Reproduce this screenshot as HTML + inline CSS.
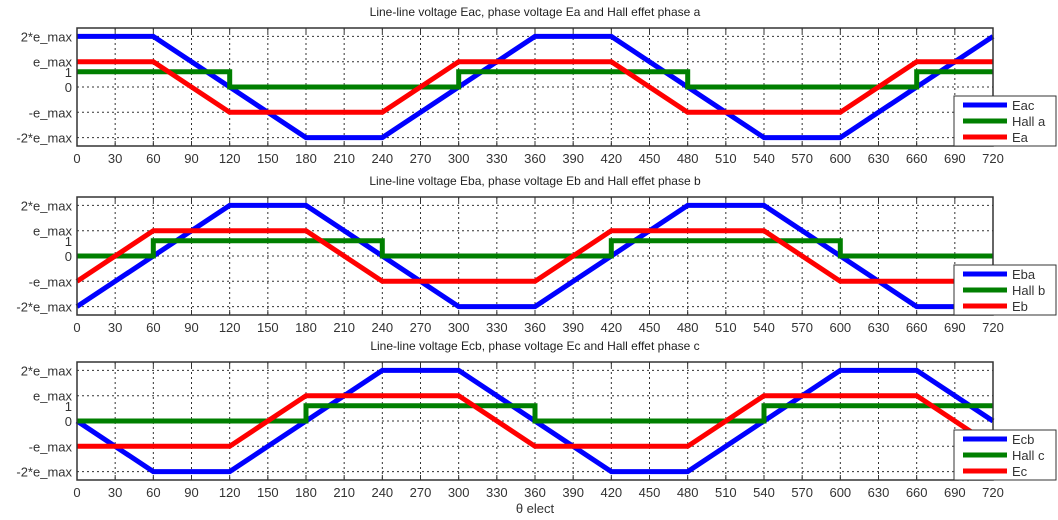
<!DOCTYPE html>
<html><head><meta charset="utf-8"><style>
html,body{margin:0;padding:0;background:#fff;}
svg{display:block;font-family:"Liberation Sans",sans-serif;}
</style></head><body>
<svg id="s" width="1058" height="520" xmlns="http://www.w3.org/2000/svg"></svg>
<script>
const s=document.getElementById('s');
const X=d=>77+d*916/720;
let h='';
const panels=[
 {y0:87,t:'Line-line voltage Eac, phase voltage Ea and Hall effet phase a',n:['Eac','Hall a','Ea'],
  L:[[0,2],[60,2],[180,-2],[240,-2],[360,2],[420,2],[540,-2],[600,-2],[720,2]],
  H:[[0,1],[120,1],[120,0],[300,0],[300,1],[480,1],[480,0],[660,0],[660,1],[720,1]],
  P:[[0,1],[60,1],[120,-1],[240,-1],[300,1],[420,1],[480,-1],[600,-1],[660,1],[720,1]]},
 {y0:256,t:'Line-line voltage Eba, phase voltage Eb and Hall effet phase b',n:['Eba','Hall b','Eb'],
  L:[[0,-2],[120,2],[180,2],[300,-2],[360,-2],[480,2],[540,2],[660,-2],[720,-2]],
  H:[[0,0],[60,0],[60,1],[240,1],[240,0],[420,0],[420,1],[600,1],[600,0],[720,0]],
  P:[[0,-1],[60,1],[180,1],[240,-1],[360,-1],[420,1],[540,1],[600,-1],[720,-1]]},
 {y0:421,t:'Line-line voltage Ecb, phase voltage Ec and Hall effet phase c',n:['Ecb','Hall c','Ec'],
  L:[[0,0],[60,-2],[120,-2],[240,2],[300,2],[420,-2],[480,-2],[600,2],[660,2],[720,0]],
  H:[[0,0],[180,0],[180,1],[360,1],[360,0],[540,0],[540,1],[720,1]],
  P:[[0,-1],[120,-1],[180,1],[300,1],[360,-1],[480,-1],[540,1],[660,1],[720,-1]]}
];
const lab=[[2,'2*e_max'],[1,'e_max'],[0.6,'1'],[0,'0'],[-1,'-e_max'],[-2,'-2*e_max']];
panels.forEach((p,i)=>{
 const y0=p.y0,Y=v=>y0-25.3*v,top=y0-59,bot=y0+59;
 h+=`<text x="535" y="${top-12}" font-size="12" text-anchor="middle" fill="#222">${p.t}</text>`;
 for(let d=30;d<720;d+=30)h+=`<line x1="${X(d)}" y1="${top}" x2="${X(d)}" y2="${bot}" stroke="#333" stroke-width="1" stroke-dasharray="2,3"/>`;
 [2,1,0,-1,-2].forEach(v=>h+=`<line x1="77" y1="${Y(v)}" x2="993" y2="${Y(v)}" stroke="#333" stroke-width="1" stroke-dasharray="2,3"/>`);
 lab.forEach(([v,t])=>h+=`<text x="72" y="${Y(v)+5}" font-size="13" text-anchor="end" fill="#333">${t}</text>`);
 for(let d=0;d<=720;d+=30){h+=`<text x="${X(d)}" y="${bot+17}" font-size="13" text-anchor="middle" fill="#333">${d}</text>`;
  h+=`<line x1="${X(d)}" y1="${bot}" x2="${X(d)}" y2="${bot-5}" stroke="#333"/><line x1="${X(d)}" y1="${top}" x2="${X(d)}" y2="${top+5}" stroke="#333"/>`;}
 const pl=(pts,c)=>`<polyline fill="none" stroke="${c}" stroke-width="5" stroke-linejoin="miter" points="${pts.map(q=>X(q[0]).toFixed(1)+','+Y(q[1]===1&&pts===p.H?0.6:q[1]).toFixed(1)).join(' ')}"/>`;
 h+=pl(p.L,'#0000ff')+pl(p.H,'#007f00')+pl(p.P,'#ff0000');
 h+=`<rect x="77" y="${top}" width="916" height="${bot-top}" fill="none" stroke="#333" stroke-width="1.5"/>`;
 const ly=y0+9;
 h+=`<rect x="954" y="${ly}" width="102" height="50" fill="#fff" stroke="#333"/>`;
 ['#0000ff','#007f00','#ff0000'].forEach((c,k)=>{const yy=ly+9+k*16;
  h+=`<line x1="963" y1="${yy}" x2="1007" y2="${yy}" stroke="${c}" stroke-width="5"/><text x="1012" y="${yy+5}" font-size="13" fill="#333">${p.n[k]}</text>`;});
});
h+=`<text x="535" y="513" font-size="13" text-anchor="middle" fill="#333">θ elect</text>`;
s.innerHTML=h;
</script>
</body></html>
